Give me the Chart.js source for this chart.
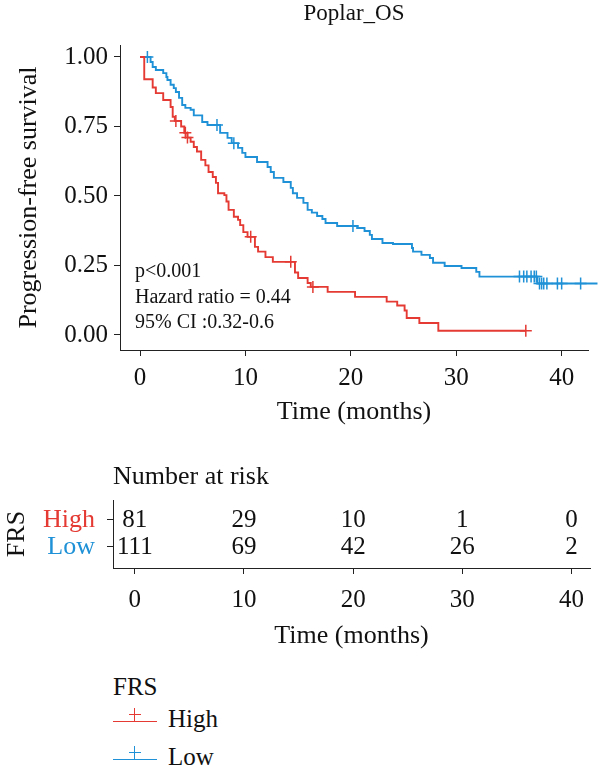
<!DOCTYPE html>
<html><head><meta charset="utf-8">
<script src="https://cdn.jsdelivr.net/npm/chart.js@4.4.1/dist/chart.umd.min.js"></script>
<style>
html,body{margin:0;padding:0;background:#fff;}
body{width:600px;height:775px;position:relative;overflow:hidden;font-family:'Liberation Serif','Times New Roman',serif;color:#111;}
canvas{position:absolute;left:0;}
#main{top:0;}
#risk{top:440px;}
.lg{position:absolute;font-size:25px;line-height:30px;white-space:nowrap;color:#111;}
.ln{position:absolute;height:0;width:0;}
</style></head><body>
<canvas id="main" width="600" height="440"></canvas>
<canvas id="risk" width="600" height="230"></canvas>
<div id="legend"></div>
<script>
// ---------- data ----------
const chartTitle = 'Poplar_OS';
const legendTitle = 'FRS';
const groups = ['High', 'Low'];
const colors = ['#E43A33', '#1F91D6'];

const highTime = [0, 0.4, 1.2, 1.5, 2.2, 2.9, 3.1, 3.3, 3.9, 4.2, 4.5, 4.8, 5.1, 5.4, 5.8, 6.2, 6.5, 6.9, 7.2, 7.4, 8.0, 8.2, 8.4, 8.9, 9.3, 9.5, 9.8, 10.2, 10.9, 11.2, 11.9, 12.6, 14.7, 15.0, 15.9, 16.2, 17.8, 20.4, 23.4, 24.4, 25.1, 25.3, 26.5, 28.3, 36.6];
const highSurv = [1, 0.92, 0.89, 0.87, 0.845, 0.82, 0.785, 0.77, 0.75, 0.727, 0.71, 0.695, 0.676, 0.66, 0.63, 0.61, 0.586, 0.568, 0.547, 0.51, 0.503, 0.48, 0.45, 0.425, 0.414, 0.395, 0.37, 0.353, 0.317, 0.30, 0.28, 0.263, 0.225, 0.205, 0.187, 0.173, 0.155, 0.137, 0.12, 0.106, 0.088, 0.061, 0.043, 0.015, 0.015];
const highCensorTime = [3.4, 4.3, 4.5, 10.5, 14.3, 16.4, 36.6];
const highCensorSurv = [0.77, 0.727, 0.71, 0.353, 0.263, 0.173, 0.015];

const lowTime = [0, 1.0, 1.2, 1.5, 2.2, 2.5, 2.6, 2.9, 3.2, 3.4, 3.7, 4.0, 4.3, 4.8, 5.1, 5.9, 6.4, 7.6, 8.3, 8.7, 9.3, 9.7, 10.0, 11.1, 12.1, 12.4, 12.7, 13.6, 14.3, 14.5, 14.9, 15.5, 15.9, 16.3, 16.8, 17.3, 17.6, 18.7, 20.6, 21.3, 21.8, 22.0, 23.0, 24.0, 25.8, 25.9, 26.7, 27.5, 27.8, 28.9, 30.5, 31.9, 32.2, 37.7, 43.4];
const lowSurv = [1, 0.982, 0.964, 0.953, 0.942, 0.928, 0.917, 0.90, 0.888, 0.874, 0.853, 0.827, 0.817, 0.81, 0.79, 0.766, 0.755, 0.727, 0.709, 0.69, 0.673, 0.655, 0.64, 0.622, 0.604, 0.586, 0.565, 0.55, 0.529, 0.51, 0.493, 0.475, 0.45, 0.44, 0.428, 0.417, 0.403, 0.392, 0.385, 0.374, 0.36, 0.345, 0.331, 0.327, 0.313, 0.30, 0.288, 0.277, 0.26, 0.248, 0.241, 0.227, 0.21, 0.185, 0.185];
const lowCensorTime = [0.7, 7.3, 8.9, 20.2, 36.0, 36.4, 36.7, 37.1, 37.4, 37.6, 37.9, 38.1, 38.3, 38.6, 39.6, 40.0, 41.8];
const lowCensorSurv = [1.0, 0.755, 0.69, 0.392, 0.21, 0.21, 0.21, 0.21, 0.21, 0.21, 0.185, 0.185, 0.185, 0.185, 0.185, 0.185, 0.185];

const xTicks = [0, 10, 20, 30, 40];
const yTicks = [0, 0.25, 0.5, 0.75, 1];
const statLines = ['p<0.001', 'Hazard ratio = 0.44', '95% CI :0.32-0.6'];

const riskTimes = [0, 10, 20, 30, 40];
const riskHigh = [81, 29, 10, 1, 0];
const riskLow = [111, 69, 42, 26, 2];

// ---------- setup ----------
const FONT = "'Liberation Serif', 'Times New Roman', serif";
const INK = '#111';
Chart.defaults.font.family = FONT;
Chart.defaults.color = INK;

const pts = (xs, ys) => xs.map((t, i) => ({ x: t, y: ys[i] }));
const axisGrid = { display: true, drawOnChartArea: false, drawTicks: true, tickLength: 6, color: '#222', lineWidth: 1 };
const axisBorder = { display: true, color: '#222', width: 1 };

const statPlugin = {
  id: 'stat',
  afterDatasetsDraw(chart) {
    const { ctx, chartArea: a } = chart;
    ctx.save();
    ctx.font = '20px ' + FONT;
    ctx.fillStyle = INK;
    ctx.textAlign = 'left';
    ctx.textBaseline = 'middle';
    statLines.forEach((s, i) => ctx.fillText(s, a.left + 15, a.bottom - 78 + i * 25.5));
    ctx.restore();
  }
};

const lineDs = (xs, ys, c) => ({
  data: pts(xs, ys), showLine: true, stepped: 'before', borderColor: c, backgroundColor: c,
  borderWidth: 1.9, pointRadius: 0, pointHoverRadius: 0, fill: false, clip: false
});
const censorDs = (xs, ys, c) => ({
  data: pts(xs, ys), showLine: false, pointStyle: 'cross', pointRadius: 6, pointHoverRadius: 6,
  borderColor: c, backgroundColor: c, pointBorderWidth: 1.5, clip: false
});

new Chart(document.getElementById('main'), {
  type: 'scatter',
  data: {
    datasets: [
      lineDs(highTime, highSurv, colors[0]),
      lineDs(lowTime, lowSurv, colors[1]),
      censorDs(highCensorTime, highCensorSurv, colors[0]),
      censorDs(lowCensorTime, lowCensorSurv, colors[1])
    ]
  },
  options: {
    responsive: false, animation: false, devicePixelRatio: 1,
    layout: { padding: { left: 0, right: 12, top: 0, bottom: 0 } },
    plugins: {
      legend: { display: false }, tooltip: { enabled: false },
      title: { display: true, text: chartTitle, fullSize: false, color: INK,
               font: { size: 23, weight: 'normal' }, padding: { top: 0, bottom: 17.4 } }
    },
    scales: {
      x: {
        type: 'linear', min: -1.9, max: 42.5,
        afterBuildTicks: s => { s.ticks = xTicks.map(v => ({ value: v })); },
        afterFit: s => { s.height = 90; },
        grid: axisGrid, border: axisBorder,
        ticks: { font: { size: 25 }, color: INK, padding: 7, maxRotation: 0, autoSkip: false },
        title: { display: true, text: 'Time (months)', color: INK, font: { size: 26 }, padding: { top: 0, bottom: 12.4 } }
      },
      y: {
        type: 'linear', min: -0.054, max: 1.043,
        afterBuildTicks: s => { s.ticks = yTicks.map(v => ({ value: v })); },
        afterFit: s => { s.width = 120; },
        grid: axisGrid, border: axisBorder,
        ticks: { font: { size: 25 }, color: INK, padding: 6, callback: v => Number(v).toFixed(2) },
        title: { display: true, text: 'Progression-free survival', color: INK, font: { size: 26 }, padding: { top: 14, bottom: 0 } }
      }
    }
  },
  plugins: [statPlugin]
});

// ---------- risk table ----------
const riskCounts = [riskHigh, riskLow];
const riskPlugin = {
  id: 'riskText',
  afterDatasetsDraw(chart) {
    const { ctx } = chart;
    ctx.save();
    ctx.font = '25px ' + FONT;
    ctx.fillStyle = INK;
    ctx.textAlign = 'center';
    ctx.textBaseline = 'middle';
    chart.data.datasets.forEach((ds, di) => {
      chart.getDatasetMeta(di).data.forEach((p, j) => ctx.fillText(String(riskCounts[di][j]), p.x, p.y));
    });
    ctx.restore();
  }
};

new Chart(document.getElementById('risk'), {
  type: 'scatter',
  data: {
    datasets: groups.map((g, gi) => ({
      label: g, data: riskTimes.map(t => ({ x: t, y: groups.length - gi })),
      pointRadius: 0, pointHoverRadius: 0, showLine: false
    }))
  },
  options: {
    responsive: false, animation: false, devicePixelRatio: 1,
    layout: { padding: { left: 0, right: 10, top: 0, bottom: 0 } },
    plugins: {
      legend: { display: false }, tooltip: { enabled: false },
      title: { display: true, text: 'Number at risk', align: 'start', fullSize: false, color: INK,
               font: { size: 26, weight: 'normal' }, padding: { top: 21.4, bottom: 7.4 } }
    },
    scales: {
      x: {
        type: 'linear', min: -2.0, max: 41.7,
        afterBuildTicks: s => { s.ticks = xTicks.map(v => ({ value: v })); },
        afterFit: s => { s.height = 102; },
        grid: axisGrid, border: axisBorder,
        ticks: { font: { size: 25 }, color: INK, padding: 11, maxRotation: 0, autoSkip: false },
        title: { display: true, text: 'Time (months)', color: INK, font: { size: 26 }, padding: { top: 0, bottom: 18.4 } }
      },
      y: {
        type: 'linear', min: 0.22, max: 2.74,
        afterBuildTicks: s => { s.ticks = groups.map((g, gi) => ({ value: groups.length - gi })); },
        afterFit: s => { s.width = 113; },
        grid: axisGrid, border: axisBorder,
        ticks: {
          font: { size: 26 }, padding: 12,
          callback: v => groups[groups.length - v],
          color: c => colors[groups.length - c.tick.value]
        },
        title: { display: true, text: legendTitle, color: INK, font: { size: 26 }, padding: { top: 1.4, bottom: 0 } }
      }
    }
  },
  plugins: [riskPlugin]
});

// ---------- legend (HTML) ----------
const lg = document.getElementById('legend');
let html = '<div class="lg" style="left:113px;top:672px">' + legendTitle + '</div>';
groups.forEach((g, i) => {
  const y = 721 + i * 38;
  const c = colors[i];
  html += '<div class="ln" style="left:113px;top:' + y + 'px;width:44px;border-top:1.8px solid ' + c + '"></div>';
  html += '<div class="ln" style="left:134px;top:' + (y - 13) + 'px;height:13px;border-left:1.6px solid ' + c + '"></div>';
  html += '<div class="ln" style="left:129px;top:' + (y - 7) + 'px;width:12px;border-top:1.6px solid ' + c + '"></div>';
  html += '<div class="lg" style="left:168px;top:' + (y - 17) + 'px">' + g + '</div>';
});
lg.innerHTML = html;
</script>
</body></html>
